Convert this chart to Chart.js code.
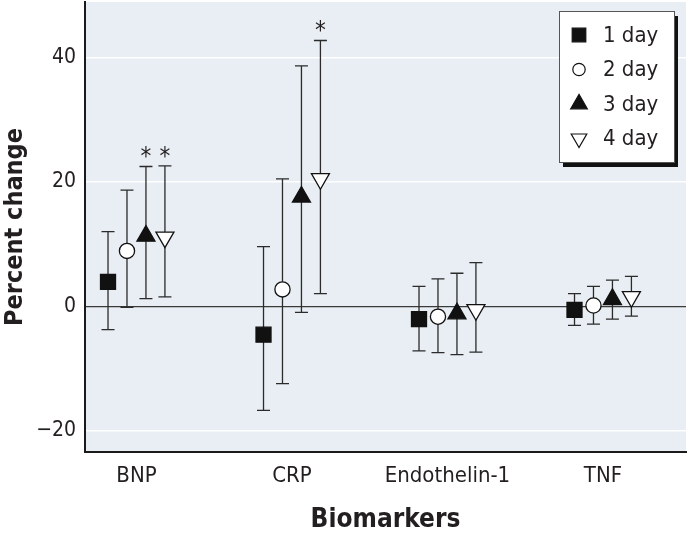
<!DOCTYPE html>
<html lang="en">
<head>
<meta charset="UTF-8">
<title>Biomarkers percent change</title>
<script src="https://cdn.jsdelivr.net/npm/chart.js"></script>
<style>
  body { margin: 0; background: #fff; }
  #wrap { width: 690px; height: 540px; }
</style>
</head>
<body>
<div id="wrap"><canvas id="chart" width="690" height="540"></canvas></div>
<script>
const categories = ['BNP', 'CRP', 'Endothelin-1', 'TNF'];
const seriesNames = ['1 day', '2 day', '3 day', '4 day'];

const day1 = [3.9, -4.6, -2.1, -0.6];
const day1Low = [-3.8, -16.8, -7.2, -3.1];
const day1High = [12.0, 9.6, 3.2, 2.0];

const day2 = [8.9, 2.7, -1.7, 0.1];
const day2Low = [-0.2, -12.5, -7.5, -2.9];
const day2High = [18.7, 20.5, 4.4, 3.2];

const day3 = [11.3, 17.6, -1.2, 1.1];
const day3Low = [1.2, -1.0, -7.8, -2.1];
const day3High = [22.5, 38.7, 5.3, 4.2];

const day4 = [11.1, 20.5, -0.6, 1.5];
const day4Low = [1.5, 2.0, -7.4, -1.6];
const day4High = [22.6, 42.8, 7.0, 4.8];

// asterisks (significant)
const day3Sig = [true, false, false, false];
const day4Sig = [true, true, false, false];

const yTicks = [-20, 0, 20, 40];

const FONT = "'Liberation Sans Narrow', 'DejaVu Sans Condensed', 'Liberation Sans', sans-serif";
const INK = '#231f20';

const values = [day1, day2, day3, day4];
const lows = [day1Low, day2Low, day3Low, day4Low];
const highs = [day1High, day2High, day3High, day4High];
const sigs = [null, null, day3Sig, day4Sig];

const styles = [
  { pointStyle: 'rect', radius: 10.6, bg: '#111', rot: 0 },
  { pointStyle: 'circle', radius: 7.6, bg: '#fff', rot: 0 },
  { pointStyle: 'triangle', radius: 10.4, bg: '#111', rot: 0 },
  { pointStyle: 'triangle', radius: 10.4, bg: '#fff', rot: 180 }
];
const step = 0.122;

const datasets = seriesNames.map((name, s) => ({
  label: name,
  data: values[s].map((v, i) => ({ x: i + (s - 1.5) * step, y: v })),
  showLine: false,
  pointStyle: styles[s].pointStyle,
  pointRadius: styles[s].radius,
  pointRotation: styles[s].rot,
  pointBackgroundColor: styles[s].bg,
  pointBorderColor: '#111',
  pointBorderWidth: 1.3
}));

const plotBg = {
  id: 'plotBg',
  beforeDraw(chart) {
    const { ctx, chartArea: a } = chart;
    ctx.save();
    ctx.fillStyle = '#e8eef3';
    ctx.fillRect(a.left, a.top, a.right - a.left, a.bottom - a.top);
    ctx.restore();
  }
};

const errorBars = {
  id: 'errorBars',
  beforeDatasetsDraw(chart) {
    const { ctx, scales: { x, y } } = chart;
    ctx.save();
    ctx.strokeStyle = '#2b2b2b';
    ctx.lineWidth = 1.3;
    ctx.fillStyle = INK;
    ctx.font = '24px ' + FONT;
    ctx.textAlign = 'center';
    ctx.textBaseline = 'alphabetic';
    values.forEach((vals, s) => {
      vals.forEach((v, i) => {
        const px = x.getPixelForValue(i + (s - 1.5) * step);
        const pLo = y.getPixelForValue(lows[s][i]);
        const pHi = y.getPixelForValue(highs[s][i]);
        ctx.beginPath();
        ctx.moveTo(px, pLo); ctx.lineTo(px, pHi);
        ctx.moveTo(px - 6.5, pLo); ctx.lineTo(px + 6.5, pLo);
        ctx.moveTo(px - 6.5, pHi); ctx.lineTo(px + 6.5, pHi);
        ctx.stroke();
        if (sigs[s] && sigs[s][i]) {
          ctx.fillText('*', px, pHi - 2);
        }
      });
    });
    ctx.restore();
  }
};

const boxLegend = {
  id: 'boxLegend',
  afterDraw(chart) {
    const { ctx, chartArea: a } = chart;
    const w = 115, h = 151;
    const left = a.right - 127, top = a.top + 9;
    ctx.save();
    ctx.fillStyle = '#111';
    ctx.fillRect(left + 4, top + 5, w, h);
    ctx.fillStyle = '#fff';
    ctx.fillRect(left, top, w, h);
    ctx.strokeStyle = '#555';
    ctx.lineWidth = 1;
    ctx.strokeRect(left + 0.5, top + 0.5, w, h);
    const legendSizes = [9.6, 6.2, 9.6, 9.0];
    ctx.font = '22px ' + FONT;
    ctx.textBaseline = 'middle';
    ctx.textAlign = 'left';
    seriesNames.forEach((name, s) => {
      const cy = top + 24 + s * 34.5;
      ctx.fillStyle = styles[s].bg;
      ctx.strokeStyle = '#111';
      ctx.lineWidth = 1.2;
      Chart.helpers.drawPoint(ctx, {
        pointStyle: styles[s].pointStyle,
        radius: legendSizes[s],
        rotation: styles[s].rot,
        borderWidth: 1.2
      }, left + 20, cy);
      ctx.fillStyle = INK;
      ctx.fillText(name, left + 44, cy + 1);
    });
    ctx.restore();
  }
};

new Chart(document.getElementById('chart'), {
  type: 'scatter',
  data: { datasets },
  plugins: [plotBg, errorBars, boxLegend],
  options: {
    responsive: false,
    animation: false,
    layout: { autoPadding: false, padding: { top: 2, right: 4, left: 0, bottom: 0 } },
    plugins: { legend: { display: false }, tooltip: { enabled: false } },
    scales: {
      x: {
        type: 'linear',
        min: -0.331,
        max: 3.534,
        afterBuildTicks(scale) { scale.ticks = categories.map((c, i) => ({ value: i })); },
        afterFit(scale) {
          scale.height = 88;
          scale.paddingLeft = 0;
          scale.paddingRight = 0;
        },
        grid: { display: false, drawTicks: false },
        border: { display: true, color: '#1a1a1a', width: 2 },
        ticks: {
          callback: (v) => categories[v],
          color: INK,
          font: { family: FONT, size: 22 },
          padding: 11,
          maxRotation: 0
        },
        title: {
          display: true,
          text: 'Biomarkers',
          color: INK,
          font: { family: FONT, size: 26, weight: 'bold' },
          padding: { top: 10 }
        }
      },
      y: {
        min: -23.5,
        max: 49,
        afterBuildTicks(scale) { scale.ticks = yTicks.map(v => ({ value: v })); },
        afterFit(scale) {
          scale.width = 85;
          scale.paddingTop = 0;
          scale.paddingBottom = 0;
        },
        grid: {
          drawTicks: false,
          color: (c) => c.tick && c.tick.value === 0 ? '#3a3a3a' : '#ffffff',
          lineWidth: (c) => c.tick && c.tick.value === 0 ? 1.2 : 1.5
        },
        border: { display: true, color: '#1a1a1a', width: 2 },
        ticks: {
          callback: (v) => (v < 0 ? '\u2212' + Math.abs(v) : String(v)),
          color: INK,
          font: { family: FONT, size: 21 },
          padding: 9
        },
        title: {
          display: true,
          text: 'Percent change',
          color: INK,
          font: { family: FONT, size: 25, weight: 'bold' },
          padding: { top: 0, bottom: 0 }
        }
      }
    }
  }
});
</script>
</body>
</html>
